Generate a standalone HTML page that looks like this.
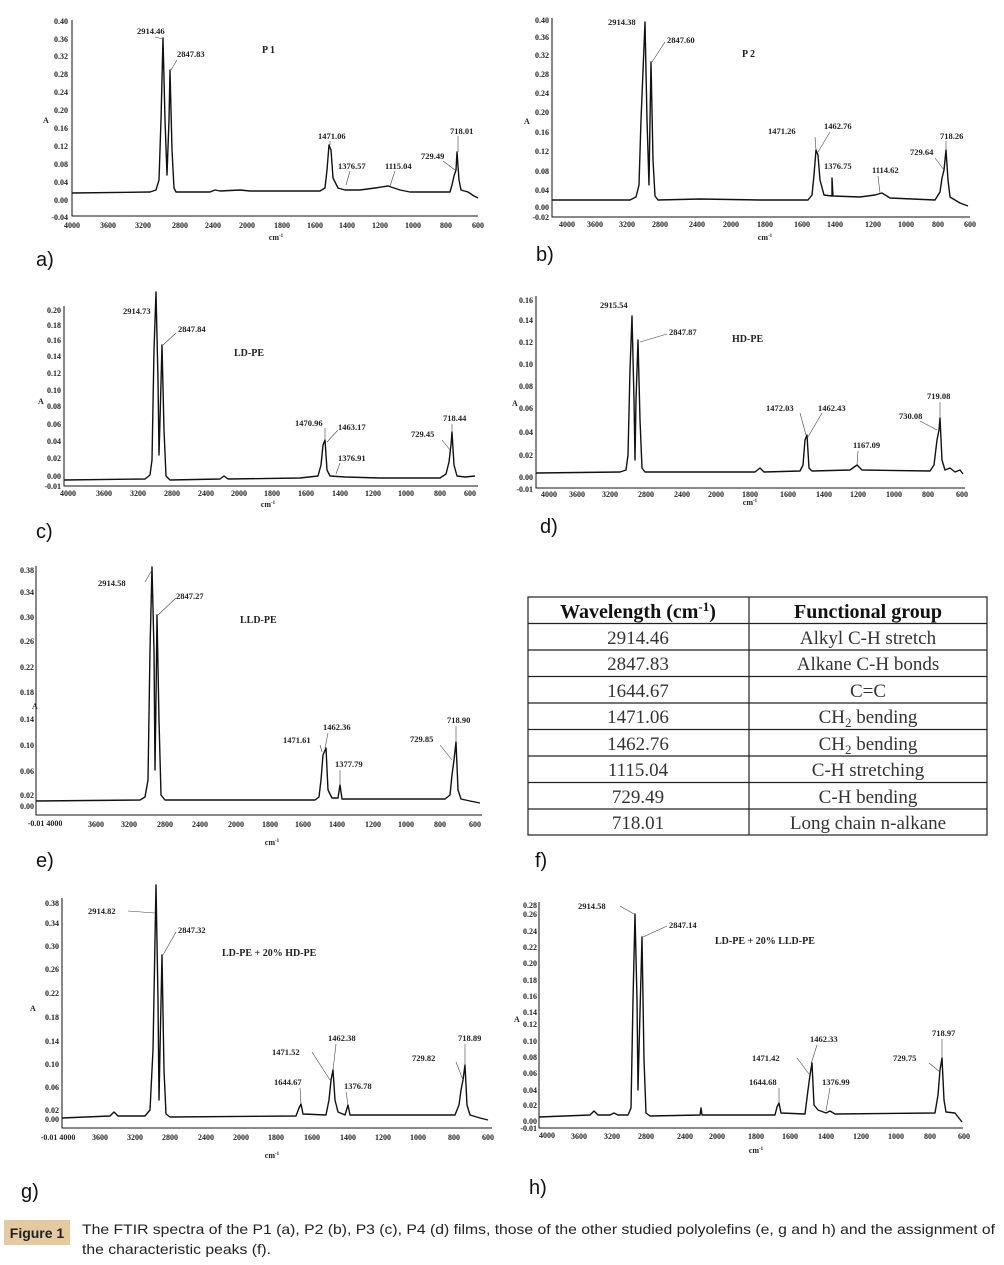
<!DOCTYPE html>
<html><head><meta charset="utf-8"><style>
html,body{margin:0;padding:0;background:#fff}
svg{display:block}
.t{font-family:"Liberation Serif",serif;font-weight:bold;font-size:8px;fill:#222}
.tl{font-family:"Liberation Serif",serif;font-weight:bold;font-size:8.5px;fill:#222}
.ti{font-family:"Liberation Serif",serif;font-weight:bold;font-size:10px;fill:#222}
.sp{fill:none;stroke:#111;stroke-width:1.4;stroke-linejoin:round}
.ax{fill:none;stroke:#111;stroke-width:1}
.ld{stroke:#444;stroke-width:0.6}
.pl{font-family:"Liberation Sans",sans-serif;font-size:20px;fill:#111}
.tb{font-family:"Liberation Serif",serif;font-size:19px;fill:#333}
.th{font-family:"Liberation Serif",serif;font-size:20px;font-weight:bold;fill:#111}
.cap{font-family:"Liberation Sans",sans-serif;font-size:14px;fill:#222}
</style></head><body>
<svg width="1004" height="1265" viewBox="0 0 1004 1265" xmlns="http://www.w3.org/2000/svg">

<!-- Panel a -->
<path class="ax" d="M72,20 V216 H478"/>
<g class="t" text-anchor="end">
<text x="68" y="24">0.40</text><text x="68" y="42">0.36</text><text x="68" y="59">0.32</text><text x="68" y="77">0.28</text><text x="68" y="95">0.24</text><text x="68" y="113">0.20</text><text x="68" y="131">0.16</text><text x="68" y="149">0.12</text><text x="68" y="167">0.08</text><text x="68" y="185">0.04</text><text x="68" y="203">0.00</text><text x="68" y="220">-0.04</text>
</g>
<text class="t" x="43" y="123">A</text>
<g class="t" text-anchor="middle">
<text x="72" y="228">4000</text><text x="108" y="228">3600</text><text x="143" y="228">3200</text><text x="180" y="228">2800</text><text x="213" y="228">2400</text><text x="247" y="228">2000</text><text x="282" y="228">1800</text><text x="315" y="228">1600</text><text x="347" y="228">1400</text><text x="380" y="228">1200</text><text x="413" y="228">1000</text><text x="446" y="228">800</text><text x="478" y="228">600</text>
<text x="276" y="240">cm<tspan font-size="5" dy="-3">-1</tspan></text>
</g>
<path class="sp" d="M72,193 L150,192 L156,190 L159,180 L161,120 L163,38 L165,120 L167,175 L169,120 L170,70 L172,150 L174,188 L176,192 L210,192 L215,190 L220,191 L240,190 L250,191 L320,191 L325,188 L327,170 L329,145 L331,150 L333,178 L338,188 L345,190 L360,190 L375,188 L388,186 L400,190 L410,192 L450,192 L452,185 L454,176 L456,170 L457,152 L459,180 L461,190 L468,192 L474,196 L478,198"/>
<g class="tl"><text x="137" y="34">2914.46</text><text x="177" y="57">2847.83</text><text x="318" y="139">1471.06</text><text x="338" y="169">1376.57</text><text x="385" y="169">1115.04</text><text x="421" y="159">729.49</text><text x="450" y="134">718.01</text></g>
<text class="ti" x="262" y="53">P 1</text>
<path class="ld" d="M155,37 L163,39 M177,60 L171,70 M330,141 L330,145 M350,171 L346,185 M395,171 L390,186 M443,161 L455,170 M458,136 L458,152"/>
<text class="pl" x="36" y="266">a)</text>

<!-- Panel b -->
<path class="ax" d="M552,18 V217 H970"/>
<g class="t" text-anchor="end">
<text x="549" y="23">0.40</text><text x="549" y="40">0.36</text><text x="549" y="58">0.32</text><text x="549" y="77">0.28</text><text x="549" y="96">0.24</text><text x="549" y="115">0.20</text><text x="549" y="135">0.16</text><text x="549" y="154">0.12</text><text x="549" y="174">0.08</text><text x="549" y="193">0.04</text><text x="549" y="210">0.00</text><text x="549" y="220">-0.02</text>
</g>
<text class="t" x="524" y="124">A</text>
<g class="t" text-anchor="middle">
<text x="567" y="227">4000</text><text x="595" y="227">3600</text><text x="627" y="227">3200</text><text x="660" y="227">2800</text><text x="697" y="227">2400</text><text x="731" y="227">2000</text><text x="765" y="227">1800</text><text x="802" y="227">1600</text><text x="835" y="227">1400</text><text x="873" y="227">1200</text><text x="906" y="227">1000</text><text x="938" y="227">800</text><text x="970" y="227">600</text>
<text x="765" y="240">cm<tspan font-size="5" dy="-3">-1</tspan></text>
</g>
<path class="sp" d="M552,200 L630,200 L636,197 L639,185 L641,120 L645,22 L647,120 L649,185 L650,120 L651,62 L653,160 L655,196 L658,200 L700,199 L760,200 L808,200 L812,195 L814,175 L816,150 L818,155 L820,180 L824,195 L832,196 L832,178 L833,196 L860,197 L875,195 L882,193 L890,198 L935,200 L940,192 L942,178 L944,170 L946,150 L948,180 L950,197 L960,203 L968,206"/>
<g class="tl"><text x="608" y="25">2914.38</text><text x="667" y="43">2847.60</text><text x="768" y="134">1471.26</text><text x="824" y="129">1462.76</text><text x="940" y="139">718.26</text><text x="910" y="155">729.64</text><text x="824" y="169">1376.75</text><text x="872" y="173">1114.62</text></g>
<text class="ti" x="742" y="57">P 2</text>
<path class="ld" d="M665,42 L652,62 M815,137 L816,150 M830,132 L818,152 M946,141 L946,150 M935,158 L944,170 M878,176 L880,193"/>
<text class="pl" x="536" y="261">b)</text>

<!-- Panel c -->
<path class="ax" d="M64,306 V486 H478"/>
<g class="t" text-anchor="end">
<text x="61" y="313">0.20</text><text x="61" y="328">0.18</text><text x="61" y="343">0.16</text><text x="61" y="359">0.14</text><text x="61" y="376">0.12</text><text x="61" y="393">0.10</text><text x="61" y="409">0.08</text><text x="61" y="427">0.06</text><text x="61" y="444">0.04</text><text x="61" y="461">0.02</text><text x="61" y="479">0.00</text><text x="61" y="489">-0.01</text>
</g>
<text class="t" x="38" y="404">A</text>
<g class="t" text-anchor="middle">
<text x="68" y="496">4000</text><text x="104" y="496">3600</text><text x="138" y="496">3200</text><text x="172" y="496">2800</text><text x="206" y="496">2400</text><text x="239" y="496">2000</text><text x="272" y="496">1800</text><text x="306" y="496">1600</text><text x="340" y="496">1400</text><text x="373" y="496">1200</text><text x="406" y="496">1000</text><text x="440" y="496">800</text><text x="470" y="496">600</text>
<text x="268" y="507">cm<tspan font-size="5" dy="-3">-1</tspan></text>
</g>
<path class="sp" d="M64,480 L145,479 L150,475 L152,460 L154,350 L156,292 L158,380 L159,455 L160,420 L162,345 L164,430 L166,476 L170,480 L220,479 L224,476 L228,479 L300,478 L318,476 L321,465 L323,445 L325,440 L327,470 L330,476 L345,477 L380,478 L440,478 L446,474 L449,462 L451,445 L452,432 L454,465 L457,476 L465,477 L475,476"/>
<g class="tl"><text x="123" y="314">2914.73</text><text x="178" y="332">2847.84</text><text x="295" y="426">1470.96</text><text x="338" y="430">1463.17</text><text x="443" y="421">718.44</text><text x="411" y="437">729.45</text><text x="338" y="461">1376.91</text></g>
<text class="ti" x="234" y="356">LD-PE</text>
<path class="ld" d="M176,333 L163,345 M325,428 L325,440 M338,430 L327,442 M452,424 L452,432 M442,440 L450,450 M340,463 L336,474"/>
<text class="pl" x="36" y="538">c)</text>

<!-- Panel d -->
<path class="ax" d="M536,296 V488 H965"/>
<g class="t" text-anchor="end">
<text x="533" y="303">0.16</text><text x="533" y="323">0.14</text><text x="533" y="345">0.12</text><text x="533" y="367">0.10</text><text x="533" y="389">0.08</text><text x="533" y="411">0.06</text><text x="533" y="435">0.04</text><text x="533" y="458">0.02</text><text x="533" y="480">0.00</text><text x="533" y="492">-0.01</text>
</g>
<text class="t" x="512" y="406">A</text>
<g class="t" text-anchor="middle">
<text x="549" y="497">4000</text><text x="577" y="497">3600</text><text x="610" y="497">3200</text><text x="646" y="497">2800</text><text x="682" y="497">2400</text><text x="716" y="497">2000</text><text x="750" y="497">1800</text><text x="788" y="497">1600</text><text x="824" y="497">1400</text><text x="858" y="497">1200</text><text x="894" y="497">1000</text><text x="928" y="497">800</text><text x="962" y="497">600</text>
<text x="750" y="505">cm<tspan font-size="5" dy="-3">-1</tspan></text>
</g>
<path class="sp" d="M536,473 L620,472 L626,470 L628,455 L630,370 L632,316 L634,400 L635,460 L636,400 L638,340 L640,420 L642,468 L645,472 L755,472 L760,468 L764,472 L800,471 L803,465 L805,440 L807,435 L809,468 L812,471 L850,470 L857,465 L862,470 L930,471 L934,465 L937,440 L939,430 L940,418 L942,460 L945,470 L950,468 L955,472 L960,470 L963,474"/>
<g class="tl"><text x="600" y="308">2915.54</text><text x="669" y="335">2847.87</text><text x="766" y="411">1472.03</text><text x="818" y="411">1462.43</text><text x="927" y="399">719.08</text><text x="899" y="419">730.08</text><text x="853" y="448">1167.09</text></g>
<text class="ti" x="732" y="342">HD-PE</text>
<path class="ld" d="M667,334 L640,342 M800,413 L806,435 M822,413 L808,437 M940,402 L940,418 M920,421 L937,430 M858,451 L857,465"/>
<text class="pl" x="540" y="533">d)</text>

<!-- Panel e -->
<path class="ax" d="M36,566 V815 H482"/>
<g class="t" text-anchor="end">
<text x="34" y="573">0.38</text><text x="34" y="595">0.34</text><text x="34" y="620">0.30</text><text x="34" y="644">0.26</text><text x="34" y="670">0.22</text><text x="34" y="695">0.18</text><text x="34" y="722">0.14</text><text x="34" y="748">0.10</text><text x="34" y="774">0.06</text><text x="34" y="798">0.02</text><text x="34" y="809">0.00</text>
</g>
<text class="t" x="32" y="709">A</text>
<g class="t" text-anchor="middle">
<text x="45" y="826">-0.01 4000</text><text x="96" y="827">3600</text><text x="129" y="827">3200</text><text x="165" y="827">2800</text><text x="200" y="827">2400</text><text x="236" y="827">2000</text><text x="270" y="827">1800</text><text x="303" y="827">1600</text><text x="337" y="827">1400</text><text x="373" y="827">1200</text><text x="406" y="827">1000</text><text x="440" y="827">800</text><text x="475" y="827">600</text>
<text x="272" y="845">cm<tspan font-size="5" dy="-3">-1</tspan></text>
</g>
<path class="sp" d="M36,801 L140,800 L145,797 L148,780 L150,650 L152,567 L154,650 L155,770 L156,700 L157,615 L159,720 L161,795 L165,800 L315,800 L319,797 L321,780 L323,755 L326,748 L328,790 L332,798 L338,798 L340,785 L342,799 L445,799 L450,795 L452,775 L454,760 L456,742 L458,790 L461,799 L470,801 L480,803"/>
<g class="tl"><text x="98" y="586">2914.58</text><text x="176" y="599">2847.27</text><text x="323" y="730">1462.36</text><text x="283" y="743">1471.61</text><text x="335" y="767">1377.79</text><text x="410" y="742">729.85</text><text x="447" y="723">718.90</text></g>
<text class="ti" x="240" y="623">LLD-PE</text>
<path class="ld" d="M145,582 L152,570 M176,598 L158,615 M328,733 L325,748 M320,745 L322,752 M340,770 L340,785 M440,745 L452,760 M456,726 L456,742"/>
<text class="pl" x="36" y="867">e)</text>

<!-- Panel f table -->
<rect x="528" y="597" width="459" height="238" fill="none" stroke="#222" stroke-width="1.2"/>
<path d="M749,597 V835 M528,623.5 H987 M528,650 H987 M528,676.5 H987 M528,703 H987 M528,729.5 H987 M528,756 H987 M528,782.5 H987 M528,809 H987" stroke="#222" stroke-width="1.2" fill="none"/>
<text class="th" x="638" y="618" text-anchor="middle">Wavelength (cm<tspan font-size="13" dy="-7">-1</tspan><tspan dy="7">)</tspan></text>
<text class="th" x="868" y="618" text-anchor="middle">Functional group</text>
<g class="tb" text-anchor="middle">
<text x="638" y="644">2914.46</text><text x="868" y="644">Alkyl C-H stretch</text>
<text x="638" y="670">2847.83</text><text x="868" y="670">Alkane C-H bonds</text>
<text x="638" y="697">1644.67</text><text x="868" y="697">C=C</text>
<text x="638" y="723">1471.06</text><text x="868" y="723">CH<tspan font-size="13" dy="4">2</tspan><tspan dy="-4"> bending</tspan></text>
<text x="638" y="750">1462.76</text><text x="868" y="750">CH<tspan font-size="13" dy="4">2</tspan><tspan dy="-4"> bending</tspan></text>
<text x="638" y="776">1115.04</text><text x="868" y="776">C-H stretching</text>
<text x="638" y="803">729.49</text><text x="868" y="803">C-H bending</text>
<text x="638" y="829">718.01</text><text x="868" y="829">Long chain n-alkane</text>
</g>
<text class="pl" x="535" y="867">f)</text>

<!-- Panel g -->
<path class="ax" d="M62,898 V1128 H492"/>
<g class="t" text-anchor="end">
<text x="59" y="906">0.38</text><text x="59" y="926">0.34</text><text x="59" y="949">0.30</text><text x="59" y="972">0.26</text><text x="59" y="996">0.22</text><text x="59" y="1020">0.18</text><text x="59" y="1044">0.14</text><text x="59" y="1067">0.10</text><text x="59" y="1090">0.06</text><text x="59" y="1113">0.02</text><text x="59" y="1122">0.00</text>
</g>
<text class="t" x="30" y="1011">A</text>
<g class="t" text-anchor="middle">
<text x="58" y="1140">-0.01 4000</text><text x="100" y="1140">3600</text><text x="135" y="1140">3200</text><text x="170" y="1140">2800</text><text x="206" y="1140">2400</text><text x="241" y="1140">2000</text><text x="276" y="1140">1800</text><text x="312" y="1140">1600</text><text x="348" y="1140">1400</text><text x="383" y="1140">1200</text><text x="418" y="1140">1000</text><text x="454" y="1140">800</text><text x="488" y="1140">600</text>
<text x="272" y="1158">cm<tspan font-size="5" dy="-3">-1</tspan></text>
</g>
<path class="sp" d="M62,1118 L110,1116 L114,1112 L118,1116 L145,1116 L150,1110 L153,1050 L156,885 L158,1000 L159,1100 L160,1050 L162,955 L164,1070 L166,1114 L170,1117 L296,1116 L299,1108 L301,1104 L303,1114 L326,1115 L329,1100 L331,1080 L333,1070 L335,1100 L338,1112 L345,1115 L348,1105 L350,1115 L455,1115 L459,1105 L461,1090 L463,1080 L465,1065 L467,1105 L470,1115 L480,1118 L488,1120"/>
<g class="tl"><text x="88" y="914">2914.82</text><text x="178" y="933">2847.32</text><text x="328" y="1041">1462.38</text><text x="272" y="1055">1471.52</text><text x="412" y="1061">729.82</text><text x="458" y="1041">718.89</text><text x="274" y="1085">1644.67</text><text x="344" y="1089">1376.78</text></g>
<text class="ti" x="222" y="956">LD-PE + 20% HD-PE</text>
<path class="ld" d="M128,911 L155,913 M176,932 L163,955 M336,1044 L333,1070 M312,1052 L330,1080 M456,1062 L463,1080 M465,1044 L465,1065 M300,1088 L301,1104 M346,1092 L348,1105"/>
<text class="pl" x="21" y="1198">g)</text>

<!-- Panel h -->
<path class="ax" d="M539,902 V1128 H963"/>
<g class="t" text-anchor="end">
<text x="537" y="908">0.28</text><text x="537" y="917">0.26</text><text x="537" y="934">0.24</text><text x="537" y="950">0.22</text><text x="537" y="966">0.20</text><text x="537" y="983">0.18</text><text x="537" y="999">0.16</text><text x="537" y="1015">0.14</text><text x="537" y="1027">0.12</text><text x="537" y="1044">0.10</text><text x="537" y="1060">0.08</text><text x="537" y="1076">0.06</text><text x="537" y="1093">0.04</text><text x="537" y="1108">0.02</text><text x="537" y="1124">0.00</text><text x="537" y="1131">-0.01</text>
</g>
<text class="t" x="514" y="1022">A</text>
<g class="t" text-anchor="middle">
<text x="547" y="1138">4000</text><text x="579" y="1139">3600</text><text x="612" y="1139">3200</text><text x="646" y="1139">2800</text><text x="685" y="1139">2400</text><text x="717" y="1139">2000</text><text x="756" y="1139">1800</text><text x="790" y="1139">1600</text><text x="826" y="1139">1400</text><text x="861" y="1139">1200</text><text x="896" y="1139">1000</text><text x="930" y="1139">800</text><text x="964" y="1139">600</text>
<text x="756" y="1153">cm<tspan font-size="5" dy="-3">-1</tspan></text>
</g>
<path class="sp" d="M539,1117 L590,1115 L594,1111 L598,1115 L610,1115 L614,1113 L618,1115 L628,1115 L631,1108 L633,1000 L635,914 L637,1000 L638,1090 L639,1050 L642,937 L644,1060 L646,1113 L650,1116 L700,1115 L701,1108 L702,1115 L775,1115 L777,1107 L779,1103 L781,1113 L805,1114 L808,1090 L810,1075 L812,1063 L814,1105 L818,1110 L826,1113 L830,1111 L835,1114 L935,1113 L938,1095 L940,1070 L942,1058 L944,1100 L946,1112 L955,1113 L962,1122"/>
<g class="tl"><text x="578" y="909">2914.58</text><text x="669" y="928">2847.14</text><text x="810" y="1042">1462.33</text><text x="752" y="1061">1471.42</text><text x="893" y="1061">729.75</text><text x="932" y="1036">718.97</text><text x="749" y="1085">1644.68</text><text x="822" y="1085">1376.99</text></g>
<text class="ti" x="715" y="944">LD-PE + 20% LLD-PE</text>
<path class="ld" d="M620,906 L634,914 M667,926 L643,937 M817,1045 L811,1064 M797,1058 L809,1074 M929,1063 L940,1072 M942,1039 L942,1058 M779,1088 L779,1103 M830,1088 L826,1111"/>
<text class="pl" x="529" y="1194">h)</text>

<!-- Caption -->
<rect x="4" y="1220" width="66" height="25" fill="#e5c9a0"/>
<text x="37" y="1238" text-anchor="middle" font-family="Liberation Sans, sans-serif" font-size="14" font-weight="bold" fill="#222">Figure 1</text>
<text class="cap" x="82" y="1234" textLength="913" lengthAdjust="spacingAndGlyphs">The FTIR spectra of the P1 (a), P2 (b), P3 (c), P4 (d) films, those of the other studied polyolefins (e, g and h) and the assignment of</text>
<text class="cap" x="82" y="1254" textLength="189" lengthAdjust="spacingAndGlyphs">the characteristic peaks (f).</text>
</svg>
</body></html>
